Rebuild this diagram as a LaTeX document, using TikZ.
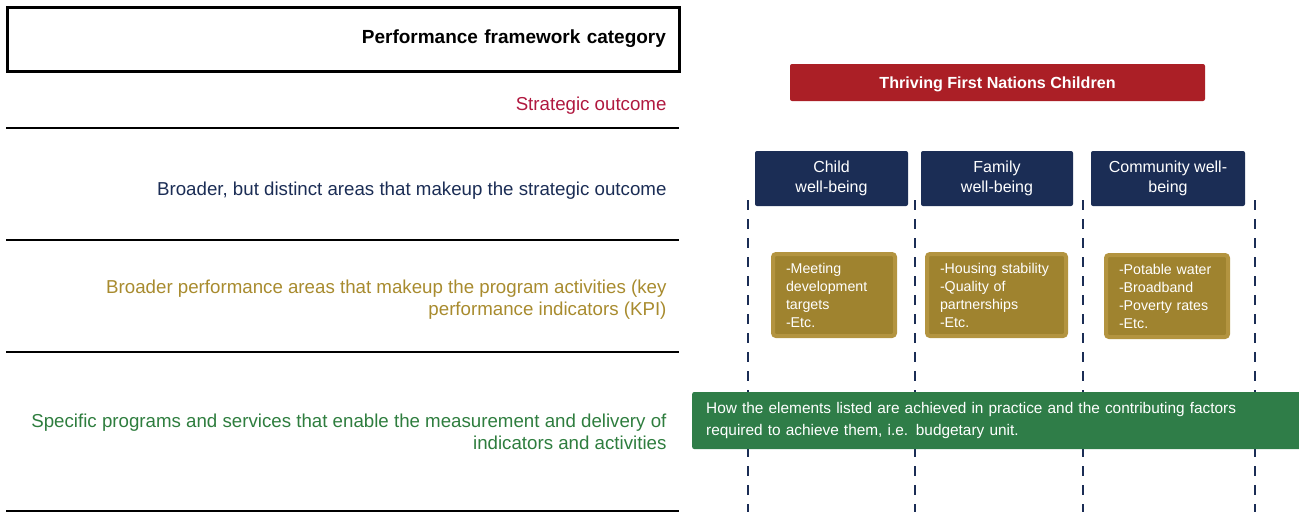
\documentclass[tikz,border=0pt]{standalone}
\usepackage{fontspec}
\setmainfont{Liberation Sans}
\usetikzlibrary{positioning}
\definecolor{soRed}{HTML}{AB1F26}
\definecolor{soText}{HTML}{B0183F}
\definecolor{navy}{HTML}{1B2D55}
\definecolor{kpiOut}{HTML}{B39440}
\definecolor{kpiIn}{HTML}{9F832F}
\definecolor{kpiText}{HTML}{A88B2E}
\definecolor{progGreen}{HTML}{2F7D48}
\definecolor{progText}{HTML}{2E7D3E}

\begin{document}
\begin{tikzpicture}[
  x=1pt, y=-1pt,
  hdr/.style={draw, line width=3pt, minimum width=672pt, minimum height=64pt, inner xsep=13pt, text width=646pt, align=right, font=\fontsize{19}{22}\selectfont\bfseries},
  lbl/.style={anchor=east, align=right, font=\fontsize{18.7}{22}\selectfont},
  rulel/.style={line width=2.5pt},
  outcome/.style={fill=soRed, text=white, rounded corners=2pt, minimum width=415pt, minimum height=37pt, text height=15pt, font=\fontsize{16.1}{18}\selectfont\bfseries},
  area/.style={fill=navy, text=white, rounded corners=2pt, minimum height=55pt, align=center, font=\fontsize{16}{20}\selectfont},
  kpi/.style={fill=kpiIn, draw=kpiOut, line width=4pt, rounded corners=3pt, text=white, minimum height=82pt, inner xsep=13pt, align=left, font=\fontsize{14.2}{18}\selectfont},
  prog/.style={fill=progGreen, text=white, rounded corners=2pt, anchor=west, minimum width=620pt, minimum height=57pt, inner xsep=14pt, text width=592pt, align=left, font=\fontsize{15.4}{22}\selectfont},
  divider/.style={navy, line width=2.5pt, dash pattern=on 10pt off 9pt}
]
  \useasboundingbox (0,0) rectangle (1299,512);

  % left column: categories
  \node[hdr] (header) at (343,39) {Performance framework category};
  \node[lbl, text=soText] (lblso) at (670,105.5) {Strategic outcome};
  \node[lbl, text=navy] (lblarea) at (670,190.5) {Broader, but distinct areas that makeup the strategic outcome};
  \node[lbl, text=kpiText] (lblkpi) at (670,300) {Broader performance areas that makeup the program activities (key\\performance indicators (KPI)};
  \node[lbl, text=progText] (lblprog) at (670,432) {Specific programs and services that enable the measurement and delivery of\\indicators and activities};
  \foreach \y in {128,240,352}
    \draw[rulel] (6,\y) -- (679,\y);
  \draw[line width=1.5pt] (6,511) -- (679,511);

  % dashed dividers
  \foreach \x [count=\i] in {748,915,1083,1255} {
    \coordinate (dtop\i) at (\x,200);
    \coordinate (dbot\i) at (\x,512);
    \draw[divider] (dtop\i) -- (dbot\i);
  }

  % right column: example
  \node[outcome] (thriving) at (997.5,82.5) {Thriving First Nations Children};
  \node[area, minimum width=153pt] (child) at (831.5,178.5) {Child\\well-being};
  \node[area, minimum width=152pt] (family) at (997,178.5) {Family\\well-being};
  \node[area, minimum width=154pt] (community) at (1168,178.5) {Community well-\\being};
  \node[kpi, text width=96pt] (kpichild) at (834,295) {-Meeting\\development\\targets\\-Etc.};
  \node[kpi, text width=113pt] (kpifamily) at (996.5,295) {-Housing stability\\-Quality of\\partnerships\\-Etc.};
  \node[kpi, text width=96pt] (kpicommunity) at (1167,296) {-Potable water\\-Broadband\\-Poverty rates\\-Etc.};
  \node[prog] (programs) at (692,420.5) {How the elements listed are achieved in practice and the contributing factors\\required to achieve them, i.e. budgetary unit.};
\end{tikzpicture}
\end{document}
